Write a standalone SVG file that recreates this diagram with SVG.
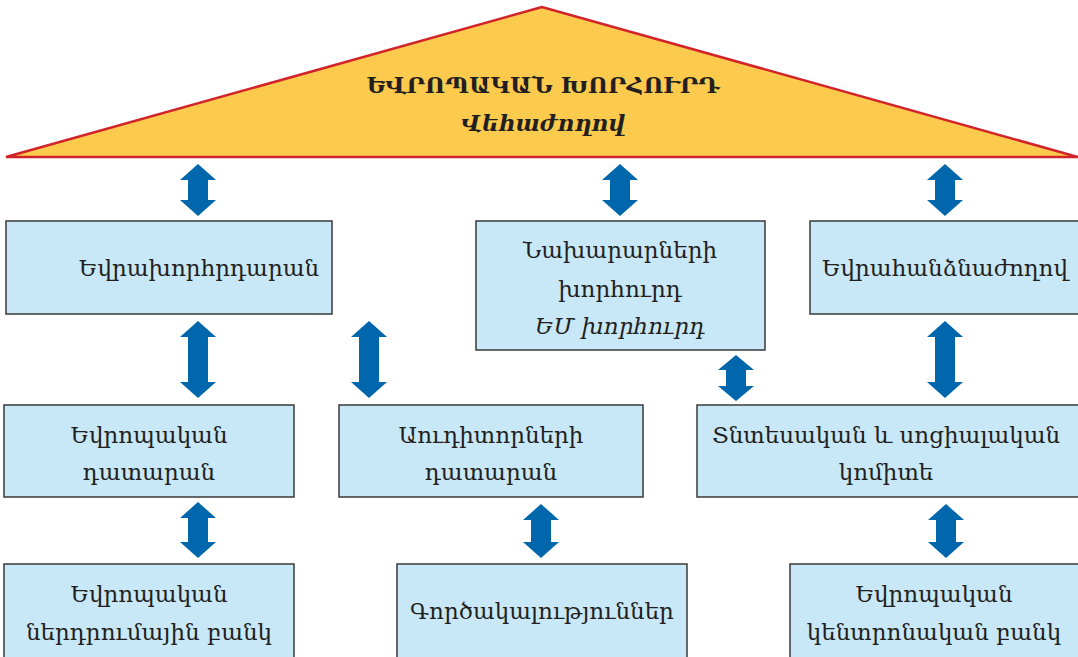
<svg xmlns="http://www.w3.org/2000/svg" width="1078" height="657" viewBox="0 0 1078 657">
<style>
.box{fill:#c8e8f8;stroke:#3a3a3a;stroke-width:1.5}
.t{font-family:"DejaVu Serif","Liberation Serif",serif;font-size:23px;fill:#231f20;text-anchor:middle}
.arr{fill:#0067ac}
</style>
<rect width="1078" height="657" fill="#fff"/>
<g id="council">
<polygon points="542,7 6,157 1078,157" fill="#fcca4c" stroke="#d2232a" stroke-width="2.5" stroke-linejoin="miter"/>
<text class="t" x="543" y="93" font-weight="bold" font-size="20.3">ԵՎՐՈՊԱԿԱՆ ԽՈՐՀՈՒՐԴ</text>
<text class="t" x="543" y="131" font-weight="bold" font-style="italic" font-size="20">Վեհաժողով</text>
</g>
<g id="parliament"><rect class="box" x="6" y="221" width="326" height="93"/><text class="t" x="199" y="276">Եվրախորհրդարան</text></g>
<g id="ministers"><rect class="box" x="476" y="221" width="289" height="129"/><text class="t" x="620" y="258">Նախարարների</text><text class="t" x="620" y="297">խորհուրդ</text><text class="t" x="620" y="334" font-style="italic">ԵՄ խորհուրդ</text></g>
<g id="ombudsman"><rect class="box" x="810" y="221" width="280" height="93"/><text class="t" x="945" y="276">Եվրահանձնաժողով</text></g>
<g id="court"><rect class="box" x="4" y="405" width="290" height="92"/><text class="t" x="149" y="443">Եվրոպական</text><text class="t" x="149" y="480">դատարան</text></g>
<g id="auditors"><rect class="box" x="339" y="405" width="304" height="92"/><text class="t" x="491" y="443">Աուդիտորների</text><text class="t" x="491" y="480">դատարան</text></g>
<g id="ecosoc"><rect class="box" x="697" y="405" width="390" height="92"/><text class="t" x="886" y="443">Տնտեսական և սոցիալական</text><text class="t" x="886" y="480">կոմիտե</text></g>
<g id="eib"><rect class="box" x="4" y="564" width="290" height="100"/><text class="t" x="149" y="602">Եվրոպական</text><text class="t" x="149" y="640">ներդրումային բանկ</text></g>
<g id="agencies"><rect class="box" x="397" y="564" width="290" height="100"/><text class="t" x="542" y="619">Գործակալություններ</text></g>
<g id="ecb"><rect class="box" x="790" y="564" width="300" height="100"/><text class="t" x="934" y="602">Եվրոպական</text><text class="t" x="934" y="640">կենտրոնական բանկ</text></g>
<g id="connectors">
<path class="arr" d="M198,164 L216,180 L208,180 L208,200 L216,200 L198,216 L180,200 L188,200 L188,180 L180,180 Z"/>
<path class="arr" d="M620,164 L638,180 L630,180 L630,200 L638,200 L620,216 L602,200 L610,200 L610,180 L602,180 Z"/>
<path class="arr" d="M945,164 L963,180 L955,180 L955,200 L963,200 L945,216 L927,200 L935,200 L935,180 L927,180 Z"/>
<path class="arr" d="M198,321 L216,337 L208,337 L208,382 L216,382 L198,398 L180,382 L188,382 L188,337 L180,337 Z"/>
<path class="arr" d="M369,321 L387,337 L379,337 L379,382 L387,382 L369,398 L351,382 L359,382 L359,337 L351,337 Z"/>
<path class="arr" d="M736,355 L754,370 L746,370 L746,386 L754,386 L736,401 L718,386 L726,386 L726,370 L718,370 Z"/>
<path class="arr" d="M945,321 L963,337 L955,337 L955,382 L963,382 L945,398 L927,382 L935,382 L935,337 L927,337 Z"/>
<path class="arr" d="M198,502 L216,518 L208,518 L208,542 L216,542 L198,558 L180,542 L188,542 L188,518 L180,518 Z"/>
<path class="arr" d="M541,504 L559,520 L551,520 L551,542 L559,542 L541,558 L523,542 L531,542 L531,520 L523,520 Z"/>
<path class="arr" d="M946,504 L964,520 L956,520 L956,542 L964,542 L946,558 L928,542 L936,542 L936,520 L928,520 Z"/>
</g>
</svg>
